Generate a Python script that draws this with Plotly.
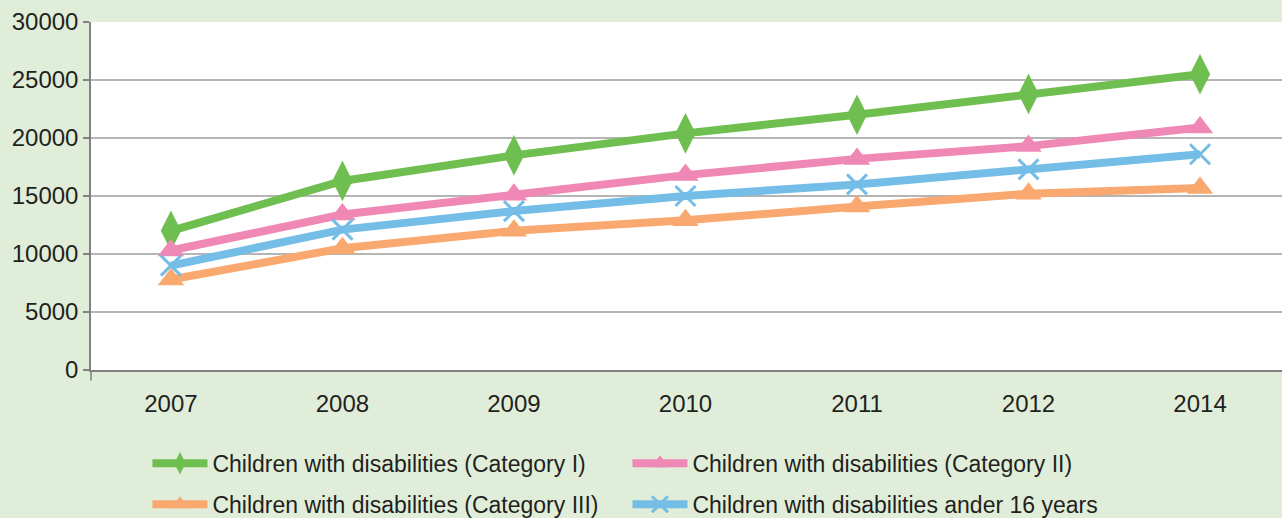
import plotly.graph_objects as go

years = ["2007", "2008", "2009", "2010", "2011", "2012", "2014"]
cat1 = [12000, 16300, 18500, 20400, 22000, 23800, 25500]
cat2 = [10300, 13400, 15100, 16800, 18200, 19300, 20900]
cat3 = [7800, 10500, 12000, 12900, 14100, 15200, 15700]
under16 = [9000, 12100, 13700, 15000, 16000, 17300, 18600]
y_ticks = [0, 5000, 10000, 15000, 20000, 25000, 30000]

names = [
    "Children with disabilities (Category I)",
    "Children with disabilities (Category II)",
    "Children with disabilities (Category III)",
    "Children with disabilities ander 16 years",
]

FONT = "Liberation Sans, Arial, sans-serif"
TXT = "#231f20"

fig = go.Figure()
fig.add_trace(go.Scatter(
    x=years, y=cat1, name=names[0], mode="lines+markers",
    line=dict(color="#6fbe50", width=8),
    marker=dict(symbol="diamond-tall", size=29, color="#6fbe50"),
    legend="legend"))
fig.add_trace(go.Scatter(
    x=years, y=cat2, name=names[1], mode="lines+markers",
    line=dict(color="#f088b5", width=8),
    marker=dict(symbol="triangle-up", size=23, color="#f088b5"),
    legend="legend"))
fig.add_trace(go.Scatter(
    x=years, y=cat3, name=names[2], mode="lines+markers",
    line=dict(color="#f9a86f", width=8),
    marker=dict(symbol="triangle-up", size=23, color="#f9a86f"),
    legend="legend2"))
fig.add_trace(go.Scatter(
    x=years, y=under16, name=names[3], mode="lines+markers",
    line=dict(color="#74bde7", width=8),
    marker=dict(symbol="x-thin-open", size=20, color="#74bde7",
                line=dict(width=3, color="#74bde7")),
    legend="legend2"))

legend_common = dict(
    orientation="h", xanchor="left", yanchor="middle",
    font=dict(family=FONT, size=23, color=TXT),
    bgcolor="rgba(0,0,0,0)", itemwidth=55, entrywidth=410,
    itemclick=False, itemdoubleclick=False,
)

fig.update_layout(
    width=1282, height=518,
    margin=dict(l=91, r=0, t=22, b=148, autoexpand=False),
    paper_bgcolor="#e0eed9",
    plot_bgcolor="#ffffff",
    font=dict(family=FONT, size=24, color=TXT),
    showlegend=True,
    legend=dict(x=0.0474, y=-0.268, **legend_common),
    legend2=dict(x=0.0474, y=-0.386, **legend_common),
    xaxis=dict(
        type="category", range=[-0.466, 6.478],
        showgrid=False, showline=True, linecolor="#808080", linewidth=1.5,
        ticks="outside", ticklen=11, tickcolor="rgba(0,0,0,0)",
        tickfont=dict(family=FONT, size=24, color=TXT),
        zeroline=False, fixedrange=True,
    ),
    yaxis=dict(
        range=[0, 30000], tickvals=y_ticks,
        ticktext=[str(v) for v in y_ticks],
        showgrid=True, gridcolor="#b5b5b5", gridwidth=1.5,
        showline=True, linecolor="#808080", linewidth=1.5,
        ticks="outside", ticklen=6, tickcolor="#808080", tickwidth=1.5,
        tickfont=dict(family=FONT, size=24, color=TXT),
        zeroline=False, fixedrange=True,
    ),
    shapes=[dict(type="line", xref="paper", yref="paper",
                 x0=0, x1=0, y0=0, y1=-0.03,
                 line=dict(color="#808080", width=1.5))],
)

fig.write_html(
    "out.html",
    config={"displayModeBar": False},
    post_script="document.body.style.margin='0px';document.body.style.overflow='hidden';",
)
